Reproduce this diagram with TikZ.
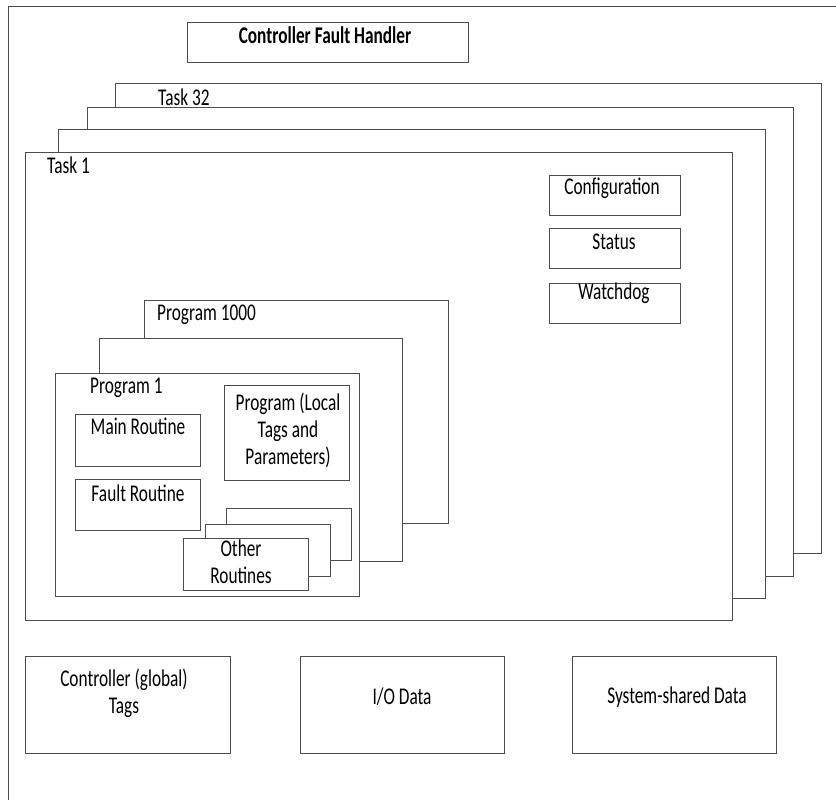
\documentclass[tikz,border=0pt]{standalone}
\usepackage{fontspec}
\setmainfont{Carlito}[FakeStretch=0.72]
\newcommand\lblfont{\fontsize{24}{27}\selectfont}
\tikzset{every node/.style={font=\lblfont,inner sep=0pt,align=center},line cap=round,line join=round}
\tikzset{frame/.style={draw=black!70,line width=1pt,fill=white}}

\begin{document}
\begin{tikzpicture}[x=1pt,y=-1pt]
  \path[use as bounding box] (0,0) rectangle (836,800);
  % controller frame, open at right and bottom
  \draw[black!70,line width=1pt] (8,800)--(8,7)--(836,7);
  \draw[frame] (187,23) rectangle (468,63);
  \node[font=\lblfont\bfseries] (cfh) at (325,35) {Controller Fault Handler};

  % stack of tasks, back to front
  \draw[frame] (115,84) rectangle (821,553);
  \node[anchor=west] (task32) at (158,97) {Task 32};
  \draw[frame] (87,108) rectangle (793,576);
  \draw[frame] (58,129) rectangle (765,598);
  \draw[frame] (25,152) rectangle (732,620);
  \node[anchor=west] (task1) at (47,165) {Task 1};

  \draw[frame] (549,175) rectangle (680,215);
  \node (config) at (612,188) {Configuration};
  \draw[frame] (549,228) rectangle (680,268);
  \node (status) at (614,242) {Status};
  \draw[frame] (549,283) rectangle (680,323);
  \node (watchdog) at (614,293) {Watchdog};

  % stack of programs
  \draw[frame] (144,300) rectangle (448,523);
  \node[anchor=west] (prog1000) at (157,315) {Program 1000};
  \draw[frame] (99,338) rectangle (402,561);
  \draw[frame] (55,373) rectangle (359,596);
  \node[anchor=west] (prog1) at (90,388) {Program 1};

  \draw[frame] (75,414) rectangle (200,466);
  \node (mainrt) at (138,426) {Main Routine};
  \draw[frame] (75,479) rectangle (200,530);
  \node (faultrt) at (138,493) {Fault Routine};
  \draw[frame] (224,385) rectangle (349,480);
  \node (localtags) at (288,430) {Program (Local\\Tags and\\Parameters)};

  \draw[frame] (226,508) rectangle (351,560);
  \draw[frame] (205,524) rectangle (330,576);
  \draw[frame] (183,538) rectangle (308,590);
  \node (otherrt) at (241,562) {Other\\Routines};

  % data outside the tasks
  \draw[frame] (25,656) rectangle (230,753);
  \node (globaltags) at (124,693) {Controller (global)\\Tags};
  \draw[frame] (300,656) rectangle (504,753);
  \node (iodata) at (402,697) {I/O Data};
  \draw[frame] (572,656) rectangle (776,753);
  \node (sysdata) at (677,697) {System-shared Data};
\end{tikzpicture}
\end{document}
